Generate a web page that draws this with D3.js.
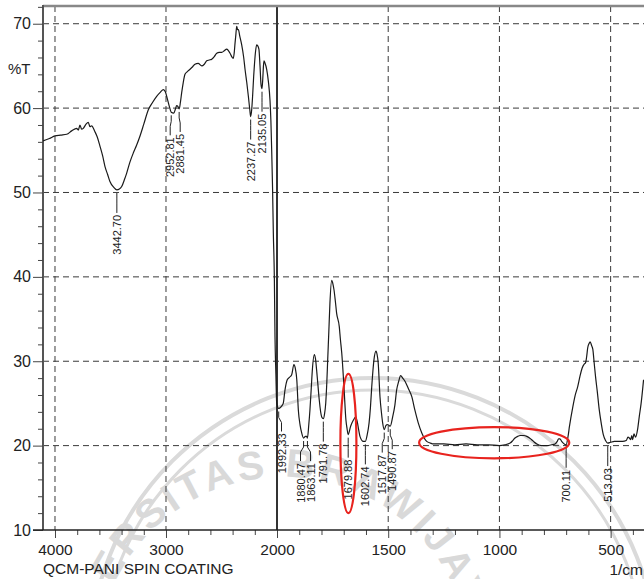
<!DOCTYPE html>
<html>
<head>
<meta charset="utf-8">
<script src="https://cdn.jsdelivr.net/npm/d3@7"></script>
<style>
  body { margin: 0; background: #fff; }
  svg { display: block; font-family: "Liberation Sans", Arial, sans-serif; }
</style>
</head>
<body>
<script>
// FTIR spectrum, QCM-PANI spin coating
const wavenumbers = [
  4108, 4050, 4000, 3950, 3894, 3850, 3805, 3790, 3775, 3760, 3745, 3720, 3700, 3685, 3670, 3640, 3620, 3595, 3570, 3550,
  3525, 3505, 3470, 3442.7, 3420, 3399, 3375, 3354, 3325, 3294, 3265, 3234, 3200, 3159, 3120, 3084, 3050, 3024, 3005, 2994,
  2970, 2952.81, 2930, 2915, 2904, 2893, 2881.45, 2870, 2859, 2845, 2829, 2810, 2784, 2760, 2739, 2710, 2678, 2655, 2633, 2610,
  2588, 2565, 2543, 2520, 2498, 2475, 2453, 2438, 2423, 2408, 2394, 2385, 2378, 2370, 2363, 2355, 2348, 2335, 2318, 2300,
  2288, 2272, 2258, 2245, 2237.27, 2228, 2219, 2210, 2204, 2195, 2183, 2175, 2163, 2153, 2144, 2135.05, 2128, 2122, 2117, 2110,
  2093, 2078, 2063, 2055, 2048, 2040, 2033, 2024, 2018, 2010, 2003, 1992.33, 1982, 1972, 1964, 1954, 1944, 1934, 1924, 1918,
  1911, 1904, 1896, 1889, 1880.47, 1872, 1867, 1863.11, 1857, 1852, 1846, 1841, 1832, 1827, 1822, 1816, 1810, 1799, 1791.78, 1786,
  1781, 1776, 1772, 1767, 1762, 1754, 1749, 1744, 1738, 1732, 1720, 1715, 1709, 1699, 1690, 1685, 1679.88, 1669, 1657, 1646,
  1639, 1633, 1627, 1612, 1602.74, 1595, 1586, 1580, 1574, 1564, 1555, 1550, 1545, 1537, 1530, 1525, 1517.87, 1510, 1504, 1497,
  1490.87, 1480, 1470, 1462, 1453, 1444, 1435, 1424, 1410, 1394, 1380, 1365, 1349, 1327, 1310, 1297, 1250, 1200, 1150, 1100,
  1050, 1000, 975, 952, 940, 930, 918, 907, 890, 877, 865, 855, 843, 832, 810, 787, 765, 750, 740, 734,
  728, 720, 713, 700.11, 692, 685, 670, 660, 648, 638, 628, 618, 613, 608, 603, 597, 592, 586, 580, 574,
  568, 560, 551, 542, 533, 523, 513.03, 500, 483, 465, 446, 430, 422, 416, 410, 405, 401, 395, 388, 379,
  371, 363, 352
];
const transmittance = [
  56.1, 56.4, 56.7, 56.8, 56.9, 57.3, 57.6, 57.4, 58.0, 57.5, 57.6, 58.1, 58.3, 57.8, 57.9, 57.2, 56.6, 55.5, 54.3, 53.1,
  52.1, 51.3, 50.6, 50.3, 50.4, 50.7, 51.5, 52.3, 53.6, 54.7, 55.6, 56.7, 58.1, 59.8, 60.7, 61.4, 61.9, 62.2, 61.9, 61.4,
  60.2, 59.5, 59.4, 59.9, 60.3, 60.2, 59.9, 60.7, 61.8, 63.0, 64.0, 64.3, 64.6, 64.9, 65.2, 65.3, 65.0, 65.2, 65.6, 65.7,
  65.8, 66.1, 66.5, 66.6, 66.6, 66.8, 67.0, 66.8, 66.5, 66.1, 65.9, 66.6, 67.7, 68.8, 69.7, 69.3, 69.3, 68.5, 67.5, 66.0,
  64.6, 63.0, 61.4, 59.8, 59.0, 59.8, 61.6, 63.8, 65.0, 66.5, 67.5, 67.4, 67.0, 65.0, 62.8, 62.3, 63.5, 65.0, 65.6, 65.4,
  64.6, 63.2, 60.9, 58.5, 55.1, 50.5, 45.2, 40.0, 32.9, 28.5, 25.1, 24.4, 24.6, 25.0, 26.6, 27.8, 28.1, 28.4, 29.6, 29.2,
  27.8, 24.2, 22.4, 21.5, 20.9, 21.1, 21.1, 20.9, 22.5, 24.2, 26.8, 29.0, 30.8, 30.3, 29.0, 27.2, 25.4, 23.4, 23.2, 23.8,
  25.0, 27.5, 30.2, 33.5, 36.9, 39.6, 39.2, 38.5, 37.2, 35.7, 34.1, 32.6, 31.0, 27.0, 23.0, 22.0, 21.3, 22.3, 23.0, 23.4,
  22.8, 21.9, 21.1, 20.5, 20.5, 21.2, 22.7, 24.5, 27.0, 30.2, 31.2, 30.8, 29.8, 25.8, 23.8, 22.7, 21.9, 22.4, 22.5, 22.4,
  22.3, 23.4, 24.8, 26.6, 27.6, 28.3, 28.0, 27.6, 26.8, 25.8, 24.2, 22.7, 21.5, 20.5, 20.3, 20.2, 20.2, 20.1, 20.2, 20.1,
  20.1, 20.0, 20.1, 20.3, 20.6, 20.9, 21.1, 21.2, 21.2, 21.1, 20.9, 20.7, 20.4, 20.2, 20.0, 20.0, 20.1, 20.2, 20.5, 20.8,
  20.8, 20.5, 20.3, 20.1, 21.0, 22.3, 24.6, 25.9, 27.0, 28.2, 29.2, 29.7, 29.8, 30.5, 31.6, 32.1, 32.3, 31.9, 31.4, 29.8,
  28.2, 26.4, 24.2, 22.6, 21.3, 20.6, 20.3, 20.4, 20.5, 20.5, 20.5, 20.6, 21.0, 20.9, 20.7, 21.2, 20.7, 21.4, 21.0, 21.9,
  23.5, 25.0, 27.8
];

// labelled peaks
const peakWavenumbers = [3442.70, 2952.81, 2881.45, 2237.27, 2135.05, 1992.33, 1880.47, 1863.11, 1791.78,
  1679.88, 1602.74, 1517.87, 1490.87, 700.11, 513.03];

// axis ticks
const xMajorTicks = [4000, 3000, 2000, 1500, 1000, 500];
const yMajorTicks = [10, 20, 30, 40, 50, 60, 70];

// red marks drawn over the chart: [wn from, wn to, %T low, %T high]
const highlightRanges = [
  [1715, 1643, 12.0, 28.5],
  [1361, 686, 18.5, 22.2]
];

const W = 644, H = 579;
const svg = d3.select("body").append("svg").attr("width", W).attr("height", H);

// x scale changes at 2000 1/cm, like the instrument print
const x = d3.scaleLinear().domain([4108, 2000, 350]).range([43, 277, 644]);
const y = d3.scaleLinear().domain([10, 72.1]).range([530, 6]);

const plotLeft = x.range()[0], plotRight = x.range()[2], plotTop = y(72.1), plotBottom = y(10);

// faint watermark behind everything
const wm = svg.append("g").attr("fill", "none").attr("stroke", "#dadada");
wm.append("circle").attr("cx", 373).attr("cy", 662).attr("r", 284).attr("stroke-width", 4);
wm.append("circle").attr("cx", 373).attr("cy", 662).attr("r", 272).attr("stroke-width", 3);
const wcx = 283, wcy = 664, wr = 187, k45 = Math.SQRT1_2 * wr;
wm.append("path").attr("id", "wmArc")
  .attr("d", `M ${wcx - k45},${wcy + k45} A ${wr},${wr} 0 1 1 ${wcx + k45},${wcy + k45}`)
  .attr("stroke", "none");
wm.append("text")
  .attr("font-size", 40).attr("font-weight", "bold").attr("fill", "#d9d9d9").attr("stroke", "none")
  .attr("letter-spacing", 4)
  .append("textPath").attr("href", "#wmArc").attr("startOffset", "47%").attr("text-anchor", "middle")
  .text("UNIVERSITAS BRAWIJAYA");

// grid
const grid = svg.append("g").attr("stroke", "#3a3a3a").attr("stroke-width", 1).attr("stroke-dasharray", "6,4");
grid.selectAll("line.h").data(yMajorTicks.filter(d => d > 10)).enter().append("line")
  .attr("x1", plotLeft).attr("x2", plotRight).attr("y1", d => y(d)).attr("y2", d => y(d));
grid.selectAll("line.v").data(xMajorTicks.filter(d => d != 2000)).enter().append("line")
  .attr("y1", plotTop).attr("y2", plotBottom).attr("x1", d => x(d)).attr("x2", d => x(d));
// solid line at the scale change
svg.append("line").attr("x1", x(2000)).attr("x2", x(2000)).attr("y1", plotTop).attr("y2", plotBottom)
  .attr("stroke", "#333").attr("stroke-width", 2);

// frame
svg.append("line").attr("x1", plotLeft).attr("x2", plotRight).attr("y1", plotTop).attr("y2", plotTop)
  .attr("stroke", "#888").attr("stroke-width", 2.5);
svg.append("line").attr("x1", plotLeft).attr("x2", plotLeft).attr("y1", plotTop - 1).attr("y2", plotBottom)
  .attr("stroke", "#555").attr("stroke-width", 2);

// axes
const yMinor = d3.range(12, 73, 2).filter(d => d % 10 != 0);
svg.append("g").attr("transform", `translate(${plotLeft},0)`)
  .call(d3.axisLeft(y).tickValues(yMinor).tickSize(5))
  .call(g => g.select(".domain").remove())
  .call(g => g.selectAll("text").remove())
  .call(g => g.selectAll("line").attr("stroke", "#444"));
svg.append("g").attr("transform", `translate(${plotLeft},0)`)
  .call(d3.axisLeft(y).tickValues(yMajorTicks).tickSize(10).tickPadding(2))
  .call(g => g.select(".domain").remove())
  .call(g => g.selectAll("line").attr("stroke", "#444"))
  .call(g => g.selectAll("text").attr("font-size", 16).attr("fill", "#222")
    .attr("font-family", "Liberation Sans, Arial, sans-serif"));

const xMinor = d3.range(3800, 2000, -200).concat(d3.range(1900, 399, -100))
  .filter(d => !xMajorTicks.includes(d));
svg.append("g").attr("transform", `translate(0,${plotBottom})`)
  .call(d3.axisBottom(x).tickValues(xMinor).tickSize(5))
  .call(g => g.select(".domain").remove())
  .call(g => g.selectAll("text").remove())
  .call(g => g.selectAll("line").attr("stroke", "#444"));
svg.append("g").attr("transform", `translate(0,${plotBottom})`)
  .call(d3.axisBottom(x).tickValues(xMajorTicks).tickSize(8).tickPadding(6).tickFormat(d3.format("d")))
  .call(g => g.select(".domain").remove())
  .call(g => g.selectAll("line").attr("stroke", "#444"))
  .call(g => g.selectAll("text").attr("font-size", 15.5).attr("fill", "#222")
    .attr("font-family", "Liberation Sans, Arial, sans-serif"));
svg.append("line").attr("x1", plotLeft - 10).attr("x2", plotRight).attr("y1", plotBottom).attr("y2", plotBottom)
  .attr("stroke", "#222").attr("stroke-width", 1.5);

svg.append("text").attr("x", 8).attr("y", 74).attr("font-size", 15).attr("fill", "#222").text("%T");
svg.append("text").attr("x", 43).attr("y", 574).attr("font-size", 15.5).attr("fill", "#222")
  .text("QCM-PANI SPIN COATING");
svg.append("text").attr("x", W - 1).attr("y", 575).attr("text-anchor", "end").attr("font-size", 15.5)
  .attr("fill", "#222").text("1/cm");

// spectrum
svg.append("clipPath").attr("id", "plotClip").append("rect")
  .attr("x", plotLeft).attr("y", plotTop).attr("width", plotRight - plotLeft).attr("height", plotBottom - plotTop);
const spectrum = wavenumbers.map((w, i) => [w, transmittance[i]]);
const line = d3.line().x(d => x(d[0])).y(d => y(d[1])).curve(d3.curveMonotoneX);
svg.append("path").datum(spectrum).attr("clip-path", "url(#plotClip)")
  .attr("fill", "none").attr("stroke", "#1a1a1a").attr("stroke-width", 1.2).attr("d", line);

// peak labels: value, close labels pushed apart
const tAt = w => {
  const i = wavenumbers.findIndex(v => Math.abs(v - w) < 0.01);
  return transmittance[i];
};
const peaks = peakWavenumbers.map(w => ({ w, px: x(w), py: y(tAt(w)) }));
peaks.forEach(p => {
  p.lx = p.px;
  // keep clear of the solid 2000 line
  if (Math.abs(p.lx - x(2000)) < 4) p.lx = x(2000) + 4.5;
});
const minGap = 10;
for (let k = 0; k < 5; k++) {
  for (let i = 1; i < peaks.length; i++) {
    const a = peaks[i - 1], b = peaks[i];
    const gap = b.lx - a.lx;
    if (gap < minGap) {
      const push = (minGap - gap) / 2;
      a.lx -= push; b.lx += push;
    }
  }
}
const lab = svg.append("g");
lab.selectAll("path").data(peaks).enter().append("path")
  .attr("fill", "none").attr("stroke", "#222").attr("stroke-width", 1)
  .attr("d", p => `M${p.px},${p.py + 3}V${p.py + 9}L${p.lx},${p.py + 14}V${p.py + 23}`);
lab.selectAll("text").data(peaks).enter().append("text")
  .attr("transform", p => `translate(${p.lx},${p.py + 25}) rotate(-90)`)
  .attr("text-anchor", "end").attr("dominant-baseline", "central")
  .attr("font-size", 11).attr("fill", "#222")
  .text(p => p.w.toFixed(2));

// red highlight ellipses
svg.selectAll("ellipse.hl").data(highlightRanges).enter().append("ellipse")
  .attr("cx", d => (x(d[0]) + x(d[1])) / 2)
  .attr("cy", d => (y(d[2]) + y(d[3])) / 2)
  .attr("rx", d => Math.abs(x(d[1]) - x(d[0])) / 2)
  .attr("ry", d => Math.abs(y(d[2]) - y(d[3])) / 2)
  .attr("fill", "none").attr("stroke", "#e8231e").attr("stroke-width", 2.2);
</script>
</body>
</html>
